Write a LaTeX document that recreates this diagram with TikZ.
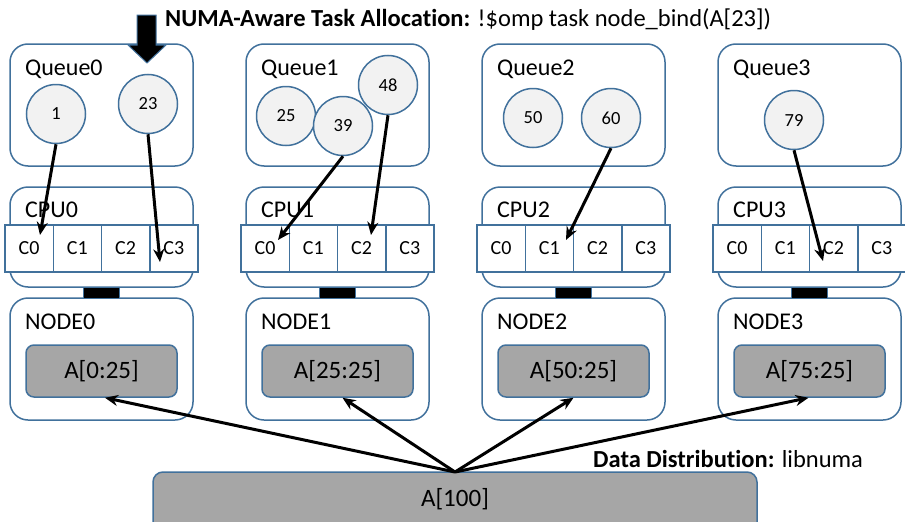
\documentclass[tikz,border=0pt]{standalone}
\usepackage{fontspec}
\setmainfont{Carlito}[Ligatures=NoCommon]
\usetikzlibrary{arrows.meta,calc}
\definecolor{bordblue}{HTML}{41719C}
\definecolor{circfill}{HTML}{F2F2F2}
\definecolor{grayfill}{HTML}{A6A6A6}
\begin{document}
\begin{tikzpicture}[x=1pt,y=-1pt,
  qbox/.style={draw=bordblue,line width=1.5pt,rounded corners=18pt,fill=white,minimum width=183pt,minimum height=122pt,inner sep=0pt},
  lbl/.style={font=\fontsize{24}{28}\selectfont,inner sep=0pt,anchor=base west},
  core/.style={draw=bordblue,line width=1.5pt,fill=white,minimum width=48.25pt,minimum height=47pt,inner sep=0pt,font=\fontsize{20}{24}\selectfont},
  linkbar/.style={draw=bordblue,line width=1pt,fill=black,minimum width=36pt,minimum height=11pt,inner sep=0pt},
  graybox/.style={draw=bordblue,line width=1.5pt,rounded corners=8pt,fill=grayfill,minimum width=151pt,minimum height=52pt,inner sep=0pt,font=\fontsize{25}{28}\selectfont},
  task/.style={circle,draw=bordblue,line width=1.5pt,fill=circfill,minimum size=59pt,inner sep=0pt,font=\fontsize{18.5}{20}\selectfont},
  conn/.style={line width=3pt,-{Stealth[length=13pt,width=11pt]}}]
\useasboundingbox (0,0) rectangle (905,522);
\clip (0,0) rectangle (905,522);
\fill[white] (0,0) rectangle (905,522);
\foreach \i/\lo in {0/0,1/25,2/50,3/75}{
  \pgfmathsetmacro\cx{101.5+236*\i}
  \node[qbox] (q\i) at (\cx,105) {};
  \node[lbl] (ql\i) at (\cx-76.5,75) {Queue\i};
  \node[qbox,minimum height=100pt] (cpu\i) at (\cx,237) {};
  \node[lbl] (cl\i) at (\cx-76.5,217) {CPU\i};
  \foreach \k in {0,...,3}{
    \node[core] (c\i\k) at (\cx-96.5+24.125+48.25*\k,248.5) {C\k};
  }
  \node[qbox] (n\i) at (\cx,359) {};
  \node[linkbar] (l\i) at (\cx,292.5) {};
  \node[lbl] (nl\i) at (\cx-76.5,329) {NODE\i};
  \node[graybox] (g\i) at (\cx,371) {A[\lo:25]};
}
% tasks
\node[task] (t1) at (56,114) {1};
\node[task] (t23) at (148,104) {23};
\node[task] (t25) at (286,116) {25};
\node[task] (t39) at (343,126) {39};
\node[task] (t48) at (388,85) {48};
\node[task] (t50) at (533,118) {50};
\node[task] (t60) at (611,118) {60};
\node[task] (t79) at (794,120) {79};
% big arrow
\draw[bordblue,line width=1pt,fill=black] (137,15) -- (156,15) -- (156,45) -- (166,45) -- (147,63) -- (128,45) -- (137,45) -- cycle;
% title
\node[lbl,font=\fontsize{24.5}{28}\selectfont] (title) at (165,27) {\textbf{NUMA-Aware Task Allocation:} !\$omp task node\_bind(A[23])};
% arrow ends
\coordinate (e1) at (40,235);
\coordinate (e23) at (160,262);
\coordinate (e39) at (278,240);
\coordinate (e48) at (371,235);
\coordinate (e60) at (566,240);
\coordinate (e79) at (823,261);
\draw[conn] (t1.south) -- (e1);
\draw[conn] (t23.south) -- (e23);
\draw[conn] (t39.south) -- (e39);
\draw[conn] (t48.south) -- (e48);
\draw[conn] (t60.south) -- (e60);
\draw[conn] (t79.south) -- (e79);
% big array
\node[draw=bordblue,line width=1.5pt,rounded corners=10pt,fill=grayfill,minimum width=604pt,minimum height=63pt,inner sep=0pt] (big) at (455,503.5) {};
\node[font=\fontsize{25}{28}\selectfont,inner sep=0pt] (bigtxt) at (455,499) {A[100]};
\coordinate (src) at (455,472);
\foreach \i/\dx in {0/3.5,1/5,2/0,3/-1}{
  \draw[conn] (src) -- ($(g\i.south)+(\dx,0)$);
}
\node[lbl,font=\fontsize{24.5}{28}\selectfont] (dd) at (593,467) {\textbf{Data Distribution:} libnuma};
\end{tikzpicture}
\end{document}
